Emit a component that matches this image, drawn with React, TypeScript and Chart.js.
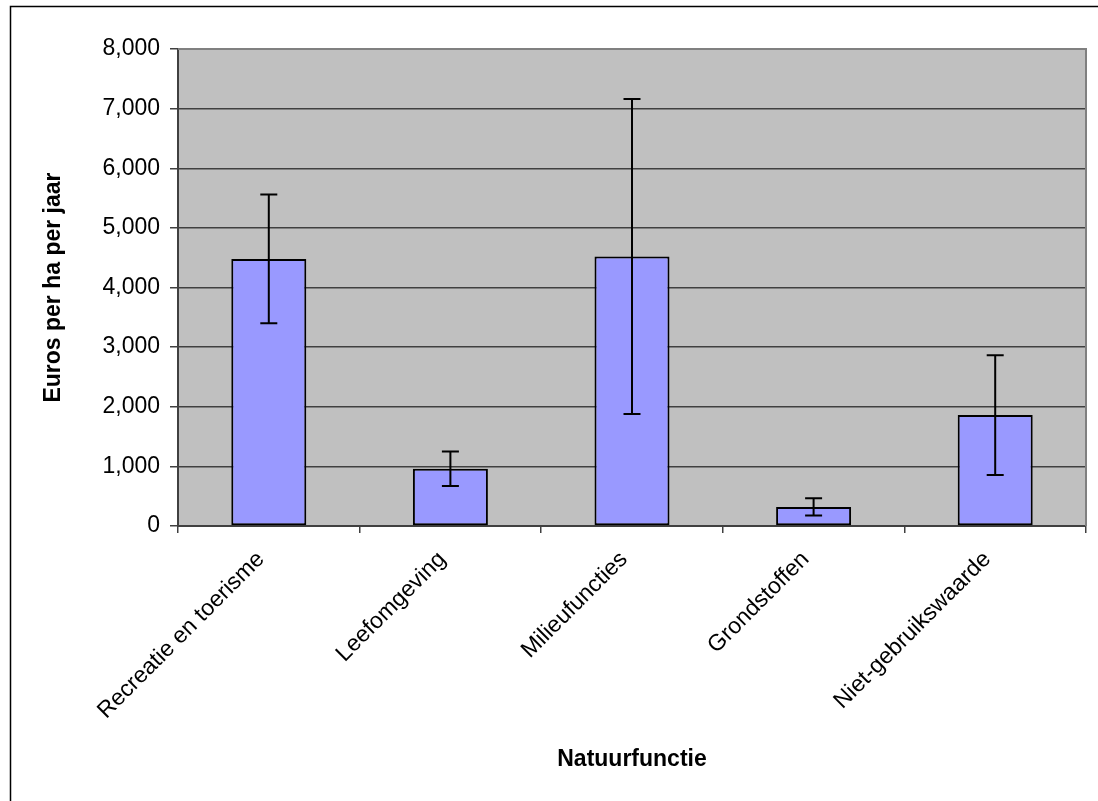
import React, { useEffect, useRef } from "react";
import { Chart, registerables } from "chart.js";

Chart.register(...registerables);

const categories = [
  "Recreatie en toerisme",
  "Leefomgeving",
  "Milieufuncties",
  "Grondstoffen",
  "Niet-gebruikswaarde",
];
const values = [4480, 960, 4520, 320, 1860];
const errors = [1080, 290, 2640, 145, 1005];
const yMin = 0;
const yMax = 8000;
const yStep = 1000;

const FONT = "'Liberation Sans', Arial, sans-serif";

const backgroundPlugin = {
  id: "plotBackground",
  beforeDraw(chart: any) {
    const { ctx, chartArea } = chart;
    ctx.save();
    ctx.fillStyle = "#ffffff";
    ctx.fillRect(0, 0, chart.width, chart.height);
    ctx.strokeStyle = "#000000";
    ctx.lineWidth = 1.5;
    ctx.strokeRect(10.5, 6.5, 3000, 3000);
    ctx.fillStyle = "#C0C0C0";
    ctx.fillRect(
      chartArea.left,
      chartArea.top,
      chartArea.right - chartArea.left,
      chartArea.bottom - chartArea.top
    );
    ctx.restore();
  },
  beforeDatasetsDraw(chart: any) {
    const { ctx, chartArea } = chart;
    ctx.save();
    ctx.strokeStyle = "#808080";
    ctx.lineWidth = 2;
    ctx.beginPath();
    ctx.moveTo(chartArea.left, chartArea.top);
    ctx.lineTo(chartArea.right, chartArea.top);
    ctx.lineTo(chartArea.right, chartArea.bottom);
    ctx.stroke();
    ctx.restore();
  },
};

const errorBarPlugin = {
  id: "errorBars",
  afterDatasetsDraw(chart: any) {
    const { ctx } = chart;
    const meta = chart.getDatasetMeta(0);
    const yScale = chart.scales.y;
    ctx.save();
    ctx.strokeStyle = "#000000";
    ctx.lineWidth = 2;
    meta.data.forEach((bar: any, i: number) => {
      const x = bar.x;
      const yTop = yScale.getPixelForValue(values[i] + errors[i]);
      const yBot = yScale.getPixelForValue(values[i] - errors[i]);
      const cap = 8.5;
      ctx.beginPath();
      ctx.moveTo(x, yTop);
      ctx.lineTo(x, yBot);
      ctx.moveTo(x - cap, yTop);
      ctx.lineTo(x + cap, yTop);
      ctx.moveTo(x - cap, yBot);
      ctx.lineTo(x + cap, yBot);
      ctx.stroke();
    });
    ctx.restore();
  },
};

export default function App() {
  const canvasRef = useRef<HTMLCanvasElement | null>(null);

  useEffect(() => {
    const canvas = canvasRef.current;
    if (!canvas) return;
    const chart = new Chart(canvas, {
      type: "bar",
      data: {
        labels: categories,
        datasets: [
          {
            data: values,
            backgroundColor: "#9999FF",
            borderColor: "#000000",
            borderWidth: 2,
            borderSkipped: false,
            categoryPercentage: 1,
            barPercentage: 0.413,
          },
        ],
      },
      options: {
        animation: false,
        responsive: false,
        devicePixelRatio: 1,
        layout: { padding: { top: 49, right: 12, left: 0, bottom: 0 } },
        plugins: {
          legend: { display: false },
          tooltip: { enabled: false },
        },
        scales: {
          x: {
            afterFit(scale: any) {
              scale.height = 275;
            },
            grid: {
              display: true,
              drawOnChartArea: false,
              drawTicks: true,
              tickLength: 7,
              offset: true,
              color: "#404040",
              lineWidth: 1.5,
            },
            border: { display: true, color: "#404040", width: 2 },
            ticks: {
              autoSkip: false,
              minRotation: 45,
              maxRotation: 45,
              padding: 13,
              labelOffset: -8,
              color: "#000000",
              font: { family: FONT, size: 23 },
            },
            title: {
              display: true,
              text: "Natuurfunctie",
              color: "#000000",
              font: { family: FONT, size: 23, weight: "bold" },
              padding: { top: 0, bottom: 28 },
            },
          },
          y: {
            min: yMin,
            max: yMax,
            afterFit(scale: any) {
              scale.width = 178;
            },
            ticks: {
              stepSize: yStep,
              padding: 10,
              color: "#000000",
              font: { family: FONT, size: 23 },
              callback: (v: any) => Number(v).toLocaleString("en-US"),
            },
            grid: {
              color: "#404040",
              lineWidth: 1.5,
              tickLength: 8,
            },
            border: { display: true, color: "#404040", width: 2 },
            title: {
              display: true,
              text: "Euros per ha per jaar",
              color: "#000000",
              font: { family: FONT, size: 23, weight: "bold" },
              padding: { top: 40, bottom: 0 },
            },
          },
        },
      },
      plugins: [backgroundPlugin, errorBarPlugin],
    });
    return () => chart.destroy();
  }, []);

  return (
    <div
      style={{
        position: "fixed",
        left: 0,
        top: 0,
        width: 1098,
        height: 801,
        overflow: "hidden",
        background: "#ffffff",
      }}
    >
      <canvas ref={canvasRef} width={1098} height={801} style={{ display: "block" }} />
    </div>
  );
}
